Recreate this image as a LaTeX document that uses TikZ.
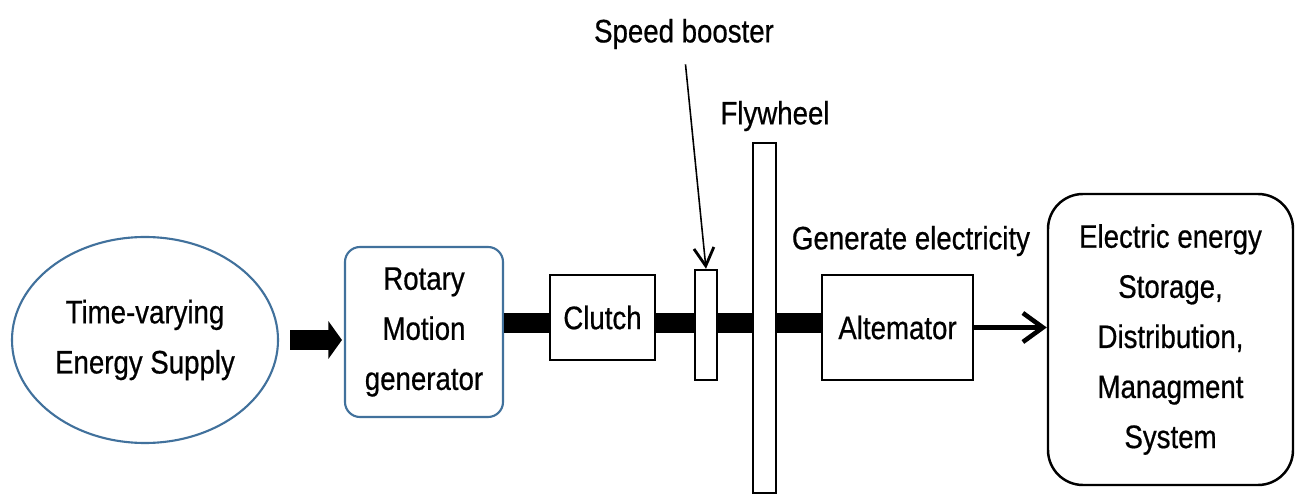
\documentclass[tikz,border=0pt]{standalone}
\usepackage{fontspec}
\setmainfont{Liberation Sans}[FakeStretch=0.85, FakeBold=0.6]
\usetikzlibrary{arrows.meta,positioning,shapes.geometric}
\definecolor{RimBlue}{HTML}{41719C}
\tikzset{
  partlabel/.style={font=\fontsize{18.5}{28.5}\selectfont, text=black, align=center, inner sep=0pt},
  partbox/.style={draw=black, line width=1.4pt, fill=white, inner sep=0pt},
  bluebox/.style={draw=RimBlue, line width=1.2pt, fill=white, inner sep=0pt},
  shaftbar/.style={line width=0.4cm, draw=black},
  feedarrow/.style={line width=0.4cm, draw=black, -{Triangle[length=0.27cm, width=0.74cm]}},
  outarrow/.style={line width=2.6pt, draw=black, -{Straight Barb[length=0.4cm, width=0.58cm]}},
  pointer/.style={line width=0.9pt, draw=black, -{Straight Barb[length=0.36cm, width=0.4cm, line width=1.6pt]}}
}
\begin{document}
\begin{tikzpicture}[every node/.style={partlabel}]
\useasboundingbox[fill=white] (0,0) rectangle (25.98,9.9);
\coordinate (axis) at (0,3.44);
% main train
\node[bluebox, ellipse, minimum width=5.32cm, minimum height=4.12cm] (supply) at (2.9,3.1) {Time-varying\\Energy Supply};
\node[bluebox, rounded corners=0.3cm, minimum width=3.16cm, minimum height=3.4cm] (rotary) at (8.48,3.26) {Rotary\\Motion\\generator};
\node[partbox, minimum width=2.1cm, minimum height=1.7cm] (clutch) at (12.05,3.55) {Clutch};
\node[partbox, minimum width=0.44cm, minimum height=2.2cm] (booster) at (14.12,3.4) {};
\node[partbox, minimum width=0.46cm, minimum height=7.0cm] (flywheel) at (15.29,3.54) {};
\node[partbox, minimum width=3.02cm, minimum height=2.1cm] (altemator) at (17.95,3.35) {Altemator};
\node[partbox, rounded corners=0.7cm, minimum width=4.9cm, minimum height=5.82cm] (store) at (23.41,3.11) {Electric energy\\Storage,\\Distribution,\\Managment\\System};
% labels
\node (boosterlbl) at (13.68,9.22) {Speed booster};
\node (flylbl) at (15.5,7.58) {Flywheel};
\node (genlbl) at (18.22,5.08) {Generate electricity};
% shafts and arrows
\draw[shaftbar] (rotary.east |- axis) -- (clutch.west |- axis);
\draw[shaftbar] (clutch.east |- axis) -- (booster.west |- axis);
\draw[shaftbar] (booster.east |- axis) -- (flywheel.west |- axis);
\draw[shaftbar] (flywheel.east |- axis) -- (altemator.west |- axis);
\draw[feedarrow, shorten <=0.22cm, shorten >=0.04cm] (supply.east) -- (rotary.west |- supply.east);
\draw[outarrow] (altemator.east) -- (store.west |- altemator.east);
\draw[pointer, shorten <=0.3cm] (boosterlbl.south) -- (booster.north);
\end{tikzpicture}
\end{document}
